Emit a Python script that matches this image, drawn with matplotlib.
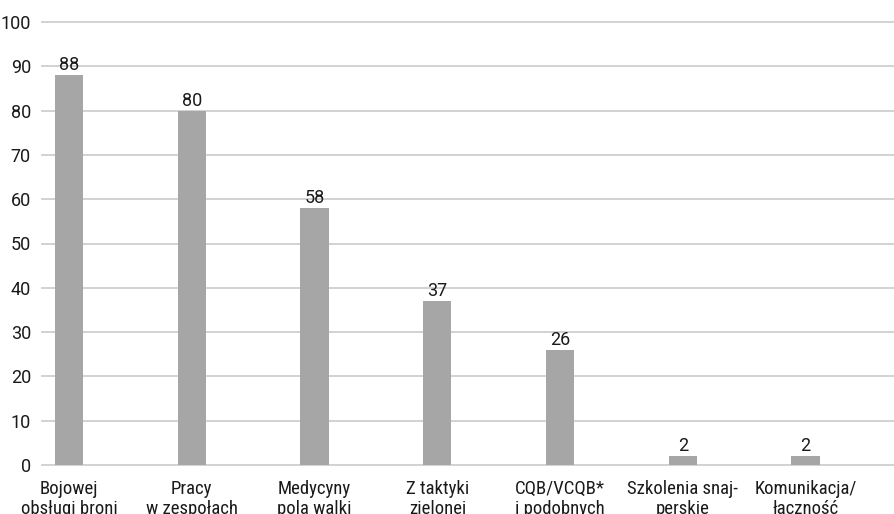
import matplotlib
matplotlib.use("Agg")
import matplotlib.pyplot as plt
from matplotlib import font_manager

categories = ["Bojowej\nobsługi broni", "Pracy\nw zespołach", "Medycyny\npola walki",
              "Z taktyki\nzielonej", "CQB/VCQB*\ni podobnych", "Szkolenia snaj-\nperskie",
              "Komunikacja/\nłączność"]
values = [88, 80, 58, 37, 26, 2, 2]
yticks = [0, 10, 20, 30, 40, 50, 60, 70, 80, 90, 100]

names = {f.name for f in font_manager.fontManager.ttflist}
narrow = None
for cand in ["Roboto Condensed", "Liberation Sans Narrow", "Open Sans Condensed", "Noto Sans Condensed"]:
    if cand in names:
        narrow = cand
        break

plt.rcParams['font.family'] = ['Roboto', 'DejaVu Sans']

fig = plt.figure(figsize=(8.94, 5.14), dpi=100)
ax = fig.add_axes([42/894, 1-465/514, 1-42/894, (465-22)/514])

x = list(range(len(categories)))
ax.bar(x, values, width=0.23, color="#a6a6a6", zorder=3)
for xi, v in zip(x, values):
    ax.text(xi, v + 0.2, str(v), ha="center", va="bottom", fontsize=13, color="#1a1a1a", zorder=4)

ax.set_ylim(0, 100)
ax.set_xlim(-0.22, 6.72)
ax.set_yticks(yticks)
ax.set_yticklabels([str(t) for t in yticks], fontsize=13, color="#1a1a1a")
ax.set_xticks(x)
if narrow:
    ax.set_xticklabels(categories, fontsize=13.5, color="#1a1a1a", linespacing=1.1,
                       multialignment="center", family=[narrow, 'DejaVu Sans'])
else:
    ax.set_xticklabels(categories, fontsize=12, color="#1a1a1a", linespacing=1.22,
                       multialignment="center")
ax.tick_params(axis="both", length=0)
ax.tick_params(axis="y", pad=8)
ax.tick_params(axis="x", pad=11)
for t in yticks:
    ax.axhline(t, color="#cfcfcf", lw=1.3, zorder=1, clip_on=False)
for s in ax.spines.values():
    s.set_visible(False)

fig.savefig("out.png", dpi=100)
